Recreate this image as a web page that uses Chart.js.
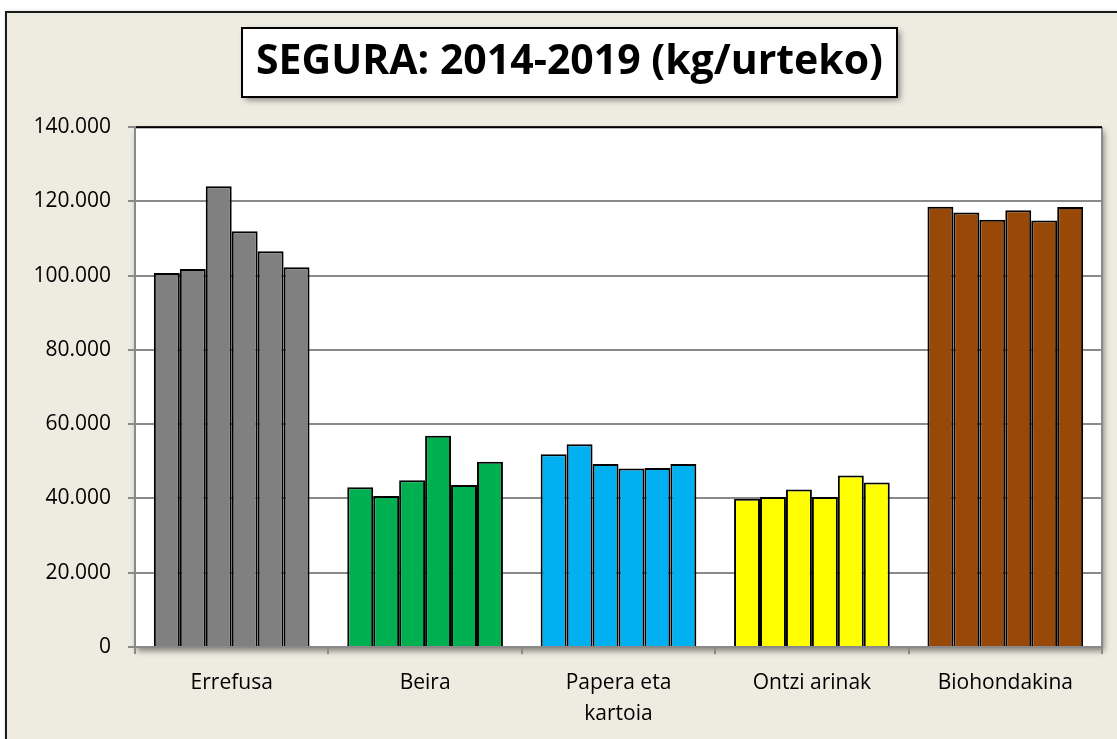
<!DOCTYPE html>
<html>
<head>
<meta charset="utf-8">
<script src="https://cdn.jsdelivr.net/npm/chart.js@4.4.1/dist/chart.umd.min.js"></script>
<style>
  html, body { margin: 0; padding: 0; background: #ffffff; }
  #wrap { position: relative; width: 1117px; height: 739px; }
  canvas { display: block; }
</style>
</head>
<body>
<div id="wrap"><canvas id="c" width="1117" height="739"></canvas></div>
<script>
// ---- data ----
const titleText = 'SEGURA: 2014-2019 (kg/urteko)';
const categories = ['Errefusa', 'Beira', ['Papera eta', 'kartoia'], 'Ontzi arinak', 'Biohondakina'];
const years = ['2014', '2015', '2016', '2017', '2018', '2019'];
const v2014 = [100700, 43000, 51900, 39900, 118600];
const v2015 = [101800, 40700, 54600, 40400, 117000];
const v2016 = [124100, 44900, 49300, 42400, 115100];
const v2017 = [112000, 56900, 48100, 40400, 117600];
const v2018 = [106600, 43600, 48200, 46200, 114900];
const v2019 = [102300, 49900, 49300, 44300, 118500];
const yTicks = [0, 20000, 40000, 60000, 80000, 100000, 120000, 140000];

// ---- styles ----
const categoryColors = ['#808080', '#00B050', '#00B0F0', '#FFFF00', '#984807'];
const seriesValues = [v2014, v2015, v2016, v2017, v2018, v2019];
const gridGray = '#8a8a8a';
const beige = '#EEECE1';

const bgPlugin = {
  id: 'bgPlugin',
  afterLayout(chart) {
    if (chart.titleBlock) {
      chart.titleBlock.left = 0;
      chart.titleBlock.right = 1139;
    }
  },
  beforeDraw(chart) {
    const ctx = chart.ctx;
    const W = chart.width, H = chart.height;
    ctx.save();
    ctx.fillStyle = '#ffffff';
    ctx.fillRect(0, 0, W, H);
    // outer frame
    ctx.shadowColor = 'rgba(0,0,0,0.25)';
    ctx.shadowBlur = 4;
    ctx.fillStyle = beige;
    ctx.fillRect(6, 12, W, H);
    ctx.shadowColor = 'transparent';
    ctx.strokeStyle = '#1a1a1a';
    ctx.lineWidth = 2;
    ctx.beginPath();
    ctx.moveTo(6, H + 5);
    ctx.lineTo(6, 12);
    ctx.lineTo(W + 5, 12);
    ctx.stroke();
    // title box
    const bx = 242, by = 28, bw = 655, bh = 69;
    ctx.shadowColor = 'rgba(0,0,0,0.45)';
    ctx.shadowBlur = 6;
    ctx.shadowOffsetX = 3;
    ctx.shadowOffsetY = 3;
    ctx.fillStyle = '#ffffff';
    ctx.fillRect(bx, by, bw, bh);
    ctx.shadowColor = 'transparent';
    ctx.strokeStyle = '#000000';
    ctx.lineWidth = 2;
    ctx.strokeRect(bx, by, bw, bh);
    // plot area with shadow
    const a = chart.chartArea;
    ctx.shadowColor = 'rgba(0,0,0,0.45)';
    ctx.shadowBlur = 6;
    ctx.shadowOffsetX = 2;
    ctx.shadowOffsetY = 4;
    ctx.fillStyle = '#ffffff';
    ctx.fillRect(a.left, a.top, a.right - a.left, a.bottom - a.top);
    ctx.restore();
    // right edge
    ctx.save();
    ctx.strokeStyle = gridGray;
    ctx.lineWidth = 2;
    ctx.beginPath();
    ctx.moveTo(a.right, a.top);
    ctx.lineTo(a.right, a.bottom);
    ctx.stroke();
    ctx.restore();
  },
  afterDraw(chart) {
    const a = chart.chartArea;
    const ctx = chart.ctx;
    ctx.save();
    ctx.strokeStyle = '#000000';
    ctx.lineWidth = 2;
    ctx.beginPath();
    ctx.moveTo(a.left + 1, a.top);
    ctx.lineTo(a.right, a.top);
    ctx.stroke();
    ctx.restore();
  }
};

const datasets = years.map((y, i) => ({
  label: y,
  data: seriesValues[i],
  backgroundColor: categoryColors,
  borderColor: '#000000',
  borderWidth: 2,
  categoryPercentage: 0.805,
  barPercentage: 1.0
}));

new Chart(document.getElementById('c'), {
  type: 'bar',
  data: { labels: categories, datasets },
  plugins: [bgPlugin],
  options: {
    responsive: false,
    animation: false,
    layout: { padding: { top: 28, left: 0, right: 15, bottom: 0 } },
    plugins: {
      legend: { display: false },
      tooltip: { enabled: false },
      title: {
        display: true,
        text: titleText,
        color: '#000000',
        font: { family: '"Open Sans", sans-serif', size: 41, weight: 'bold', lineHeight: 1.2 },
        padding: { top: 10, bottom: 40 }
      }
    },
    scales: {
      x: {
        grid: { display: true, drawOnChartArea: false, drawTicks: true, tickLength: 7, color: gridGray, lineWidth: 2, offset: true },
        border: { display: true, color: gridGray, width: 2 },
        ticks: {
          color: '#000000',
          padding: 13,
          font: { family: '"Open Sans", sans-serif', size: 21, lineHeight: 1.5 }
        },
        afterFit(s) { s.height = 92; }
      },
      y: {
        min: 0,
        max: 140000,
        afterBuildTicks(s) { s.ticks = yTicks.map(v => ({ value: v })); },
        grid: { color: gridGray, lineWidth: 2, drawTicks: true, tickLength: 7 },
        border: { display: true, color: gridGray, width: 2 },
        ticks: {
          color: '#000000',
          padding: 17,
          font: { family: '"Open Sans", sans-serif', size: 21 },
          callback: v => v.toLocaleString('de-DE')
        },
        afterFit(s) { s.width = 135; }
      }
    }
  }
});
</script>
</body>
</html>
